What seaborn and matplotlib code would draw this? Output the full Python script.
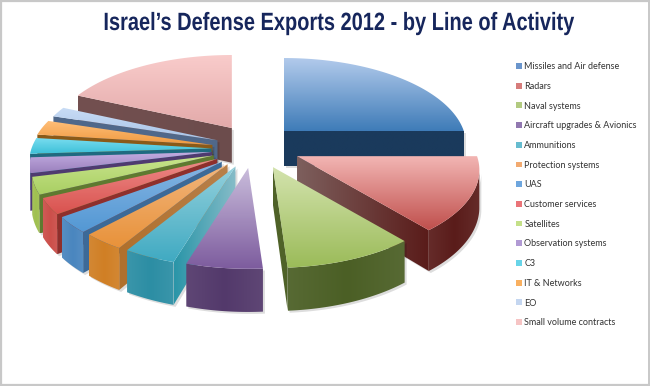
import matplotlib
matplotlib.use("Agg")
import matplotlib.pyplot as plt
import numpy as np
import seaborn as sns
from matplotlib.patches import Patch, Polygon
from matplotlib.patheffects import AbstractPathEffect
from matplotlib.transforms import Affine2D

categories = [
    "Missiles and Air defense", "Radars", "Naval systems", "Aircraft upgrades & Avionics",
    "Ammunitions", "Protection systems", "UAS", "Customer services", "Satellites",
    "Observation systems", "C3", "IT & Networks", "EO", "Small volume contracts",
]
values = [25.0, 13.9, 10.0, 5.8, 4.0, 3.2, 3.0, 3.0, 3.2, 2.9, 3.0, 2.8, 1.9, 18.3]
explode_x = [0.25, 0.276, 0.31, 0.19, 0.225, 0.225, 0.225, 0.225, 0.225, 0.225, 0.225, 0.225, 0.205, 0.206]
explode_y = [0.30, 0.20, 0.23, 0.225, 0.225, 0.225, 0.225, 0.225, 0.225, 0.225, 0.225, 0.225, 0.29, 0.295]

top_light = ["#b3cbec", "#f2b5b3", "#d3e3ad", "#c9bcdb", "#93d0dc", "#f2b57c", "#86b5e3", "#ee8a88",
             "#c8e48c", "#c4aee2", "#78dcef", "#ffbf7a", "#c9dcf5", "#f9cccb"]
top_dark = ["#3f7cb8", "#c0504d", "#9bbb59", "#7d5c9e", "#40aac2", "#e8923a", "#5398d4", "#d9534f",
            "#a9cf63", "#9a80bd", "#3cc0d8", "#f09a40", "#a8c4e8", "#e3aaaa"]
swatches = ["#6a95cc", "#d67c7b", "#b2ca80", "#9178b0", "#66bccf", "#f2aa70", "#6ea6de", "#ea7478",
            "#c4e088", "#b19ad4", "#68d4e8", "#f9b060", "#c4d6f0", "#f6c4c4"]
side_colors = ["#1a3a5c", "#5a1c1a", "#4b5f25", "#53396b", "#2c8ea4", "#d07f25", "#4a86bf", "#cc4f4a",
               "#a0c050", "#8d76b0", "#2fa0b8", "#e08c35", "#8aa6cc", "#735050"]
edge_far = ["#1a3a5c", "#7d5f5d", "#4f6228", "#53396b", "#86bcc8", "#b8804a", "#3c6a98", "#8f2f2c",
            "#5f7a30", "#4f3b70", "#1f6a80", "#8a5a18", "#50688a", "#6c4c4c"]
edge_near = ["#1a3a5c", "#5a1c1a", "#4f6228", "#53396b", "#2a95a8", "#b0702c", "#3c6a98", "#8f2f2c",
             "#5f7a30", "#4f3b70", "#1f6a80", "#8a5a18", "#50688a", "#735050"]

RX, KY, PERSP = 180.0, 84.7, 0.16
CX, CY = 252.0, 149.0
DEPTH = 36.0


class Condense(AbstractPathEffect):
    # squeezes the glyphs sideways, there is no narrow bold font installed
    def __init__(self, center, factor):
        super().__init__()
        self.center, self.factor = center, factor

    def draw_path(self, renderer, gc, tpath, affine, rgbFace=None):
        squeeze = Affine2D().translate(-self.center, 0).scale(self.factor, 1).translate(self.center, 0)
        renderer.draw_path(gc, tpath, affine + squeeze, rgbFace)


def project(x, y):
    p = 1 / (1 + PERSP * y)
    return x * RX * p, -y * KY * p


def drop(pts):
    return np.array([pt + [0, DEPTH * (1 + (pt[1] - CY) / 600)] for pt in pts])


def fill_gradient(ax, poly, colors, z, horizontal=False):
    cmap = sns.blend_palette(colors, 64, as_cmap=True)
    x0, y0 = poly.min(axis=0)
    x1, y1 = poly.max(axis=0)
    grad = np.linspace(0, 1, 64).reshape(1, -1) if horizontal else np.linspace(0, 1, 64).reshape(-1, 1)
    im = ax.imshow(grad, cmap=cmap, extent=[x0, x1, y1, y0], aspect="auto", zorder=z, interpolation="bilinear")
    clip = Polygon(poly, closed=True, transform=ax.transData, facecolor="none", edgecolor="none", zorder=z)
    ax.add_patch(clip)
    im.set_clip_path(clip)


sns.set_theme(style="white")
plt.rcParams["font.family"] = ["Lato", "DejaVu Sans"]

fig = plt.figure(figsize=(6.5, 3.86), dpi=100)
ax = fig.add_axes([0, 0, 1, 1])
ax.axis("off")

bounds = 90 - np.cumsum([0] + values) * 3.6
mids = (bounds[:-1] + bounds[1:]) / 2

z = 2
for i in np.argsort(-np.sin(np.radians(mids))):
    m = np.radians(mids[i])
    apex = np.array([CX + explode_x[i] * RX * np.cos(m), CY - explode_y[i] * KY * np.sin(m)])
    theta = np.radians(np.linspace(bounds[i], bounds[i + 1], 60))
    rim = np.array([project(np.cos(t), np.sin(t)) for t in theta]) + apex
    poly = np.vstack([apex, rim])
    nxt = np.roll(poly, -1, axis=0)
    area = np.sum(poly[:, 0] * nxt[:, 1] - nxt[:, 0] * poly[:, 1])

    def faces_down(a, b):
        run = b - a
        normal_y = -run[0] if area > 0 else run[0]
        return normal_y > 0.03 * np.hypot(*run)

    # walk the edges in polygon order so the orientation test holds
    shapes = []
    if faces_down(apex, rim[0]):
        edge = np.array([apex, rim[0]])
        shapes.append(("radial", rim[0], np.vstack([edge, drop(edge)[::-1]])))
    if faces_down(rim[-1], apex):
        edge = np.array([apex, rim[-1]])
        shapes.append(("radial", rim[-1], np.vstack([edge, drop(edge)[::-1]])))
    arc = [k for k in range(len(rim) - 1) if faces_down(rim[k], rim[k + 1])]
    if arc:
        seg = rim[arc[0]: arc[-1] + 2]
        shapes.append(("arc", None, np.vstack([seg, drop(seg)[::-1]])))

    for kind, end, shape in shapes:
        ax.add_patch(Polygon(shape + [2, 2], closed=True, facecolor="#00000022", edgecolor="none", zorder=z))
        z += 1
    for kind, end, shape in shapes:
        if kind == "arc":
            lit = sns.blend_palette([side_colors[i], "#ffffff"], 16)[1]
            fill_gradient(ax, shape, [lit, side_colors[i], lit], z, horizontal=True)
        else:
            ends = [edge_far[i], edge_near[i]] if apex[0] < end[0] else [edge_near[i], edge_far[i]]
            fill_gradient(ax, shape, ends, z, horizontal=True)
        z += 1
    fill_gradient(ax, poly, [top_light[i], top_dark[i]], z)
    z += 1

ax.set_xlim(0, 650)
ax.set_ylim(386, 0)

title_x = 339
title = ax.text(title_x, 23, "Israel\u2019s Defense Exports 2012 - by Line of Activity", ha="center", va="center",
                color="#16265c", fontsize=18, fontweight="bold", family=["Liberation Sans", "DejaVu Sans"],
                zorder=z)
title.set_path_effects([Condense(title_x, 0.80)])

handles = [Patch(facecolor=c, edgecolor="none") for c in swatches]
legend = ax.legend(handles, categories, loc="upper left", bbox_to_anchor=(0.794, 0.839), frameon=False,
                   fontsize=6.5, handlelength=0.6, handleheight=0.6, handletextpad=0.3, labelspacing=1.185,
                   borderpad=0, borderaxespad=0, labelcolor="#333333")
legend.set_zorder(z)

ax.axvline(1, color="#c8c8c8", lw=1.6)
ax.axvline(649, color="#c8c8c8", lw=1.4)
ax.axhline(1, color="#c8c8c8", lw=1.6)
ax.axhline(384.5, color="#c8c8c8", lw=1.6)

fig.savefig("out.png", dpi=100)
